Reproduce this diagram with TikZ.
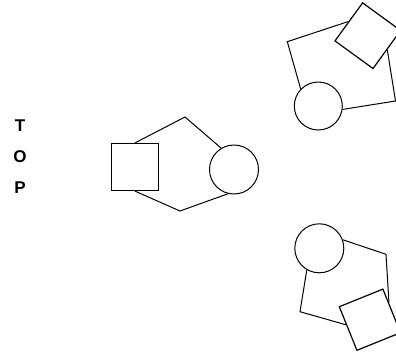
\documentclass[tikz,border=0pt]{standalone}
\usepackage{fontspec}
\setmainfont{Liberation Sans}
\begin{document}
\begin{tikzpicture}[x=1pt,y=-1pt,line width=1pt,
		box/.style={draw,rectangle,minimum size=47pt,inner sep=0pt,line width=1.2pt},
		disc/.style={draw,circle,minimum size=49pt,inner sep=0pt},
		letter/.style={font=\fontsize{17}{17}\selectfont\bfseries,inner sep=0pt}]
			\useasboundingbox (0,0) rectangle (396,354);
			\node[letter] (t) at (20,125.5) {T};
			\node[letter] (o) at (20,156.5) {O};
			\node[letter] (p) at (20,188) {P};
			\node[box] (sqA) at (135,167) {};
			\node[disc] (cA) at (234,169.5) {};
			\coordinate (kA1) at (185,117);
			\coordinate (kA2) at (180,211);
			\draw (sqA.north) -- (kA1) -- (cA.121);
			\draw (sqA.south) -- (kA2) -- (cA.256);
			\node[box,rotate=54] (sqB) at (367.8,35.7) {};
			\node[disc,minimum size=48pt] (cB) at (318.3,106) {};
			\coordinate (kB1) at (287.3,41.7);
			\coordinate (kB2) at (395.5,101);
			\draw (sqB.north) -- (kB1) -- (cB.136);
			\draw (cB.352) -- (kB2) -- (sqB.south);
			\node[disc] (cC) at (319.3,248.3) {};
			\node[box,rotate=22] (sqC) at (369.9,319.7) {};
			\coordinate (kC1) at (386,254.3);
			\coordinate (kC2) at (300,311.7);
			\draw (cC.20) -- (kC1) -- (sqC.20);
			\draw (cC.240) -- (kC2) -- (sqC.170);
		\end{tikzpicture}
\end{document}
